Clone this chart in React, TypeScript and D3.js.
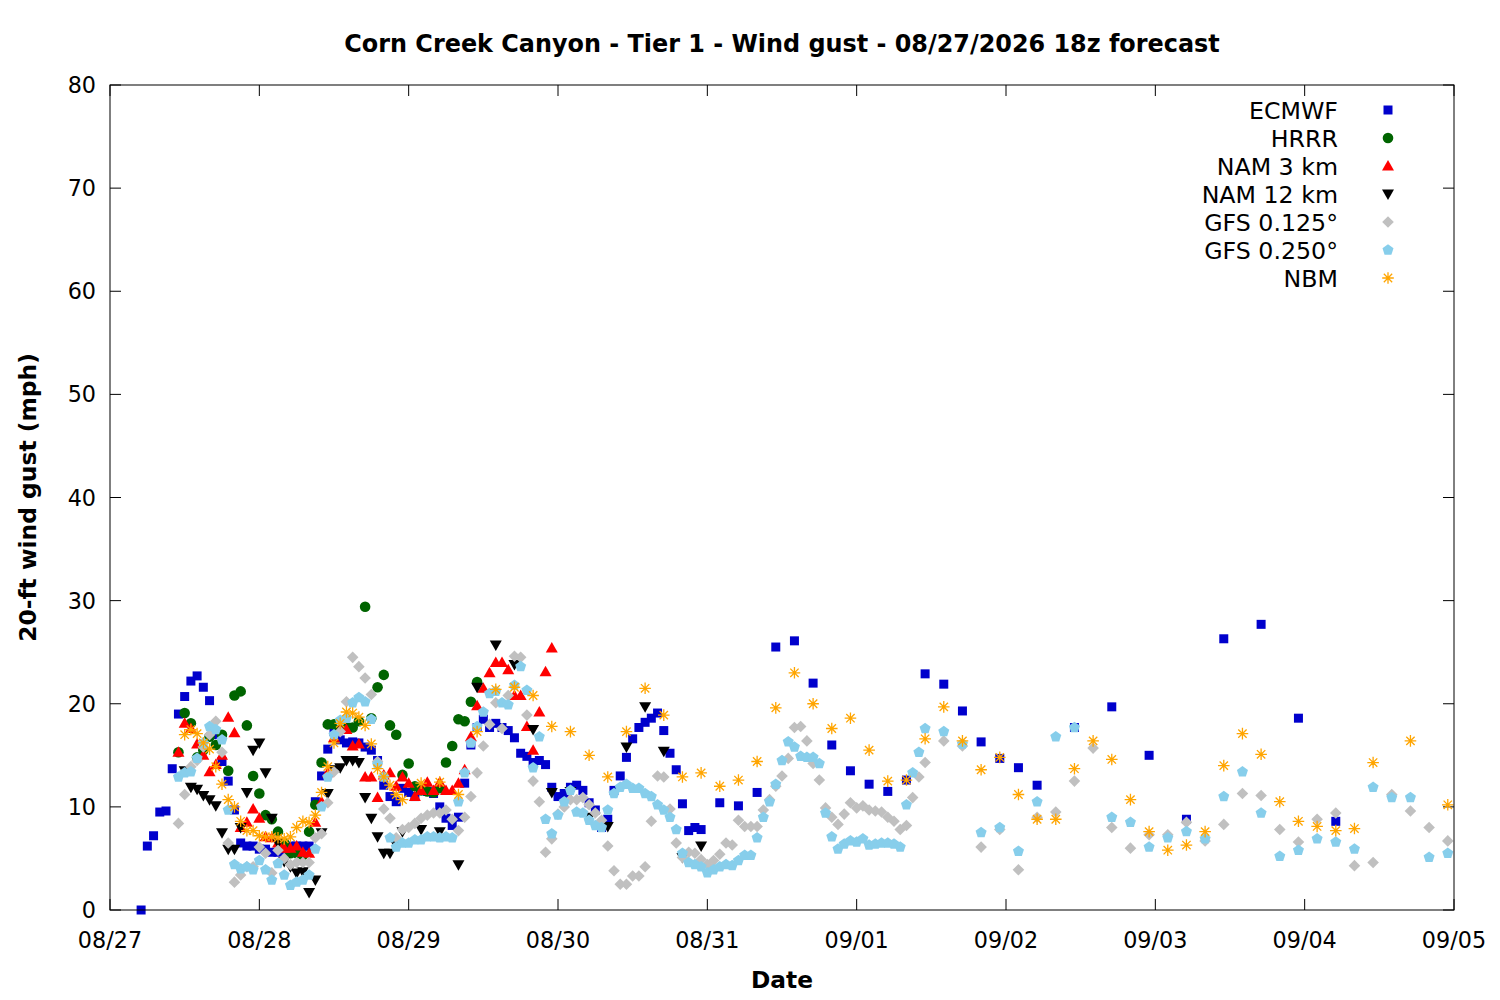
import * as d3 from "d3";
import React from "react";

// hours counted from 08/27 00:00 (local), values in mph
const T0 = Date.UTC(2026, 7, 27, 0);
const DAYS = ["08/27", "08/28", "08/29", "08/30", "08/31", "09/01", "09/02", "09/03", "09/04", "09/05"];
const Y_TICKS = [0, 10, 20, 30, 40, 50, 60, 70, 80];

const ecmwfHourly = [ // h5..h95
  0, 6.2, 7.2, 9.5, 9.6, 13.7, 19.0, 20.7, 22.2, 22.7, 21.6, 20.3, 17.0, 14.4, 12.5, 9.7,
  6.5, 6.2, 6.2, 5.9, 5.9, 5.6, 5.6, 5.8, 6.2, 6.2, 6.2, 6.2, 10.5, 13.0, 15.6, 17.3,
  16.5, 16.2, 16.3, 16.2, 15.8, 15.5, 14.5, 12.1, 11.0, 10.5, 11.8, 11.4, 11.0, 11.6, 11.5, 11.3,
  10.0, 8.9, 8.2, 9.0, 12.3, 16.0, 17.7, 18.5, 17.7, 18.1, 17.7, 17.4, 16.7, 15.2, 14.9, 14.3,
  14.5, 14.1, 11.9, 11.0, 11.3, 11.9, 12.1, 11.6, 10.4, 9.7, 8.0, 8.8, 11.6, 13.0, 14.8, 16.6,
  17.7, 18.2, 18.6, 19.1, 17.4, 15.2, 13.6, 10.3, 7.7, 8.0, 7.8,
];
const ecmwf3h = [10.4, 10.1, 11.4, 25.5, 26.1, 22.0, 16.0, 13.5, 12.2, 11.5, 12.6, 22.9, 21.9, 19.3, 16.3, 14.7, 13.8, 12.1]; // h98..h149
const ecmwf6h = [17.7, 19.7, 15.0, 8.8, 26.3, 27.7, 18.6, 8.6]; // h155..h197

const hrrrHourly = [ // h11..h59
  15.3, 19.1, 18.1, 14.8, 15.5, 16.8, 16.0, 17.0, 13.5, 20.8, 21.2, 17.9, 13.0, 11.3, 9.2, 8.8,
  7.6, 6.5, 5.5, 5.5, 5.3, 7.6, 10.2, 14.3, 18.0, 18.0, 17.5, 17.8, 17.7, 18.3, 29.4, 18.6,
  21.6, 22.8, 17.9, 17.0, 13.1, 14.2, 12.0, 11.6, 11.5, 11.4, 11.8, 14.3, 15.9, 18.5, 18.3, 20.2,
  22.1,
];

const nam3Hourly = [ // h11..h71
  15.3, 18.1, 17.6, 16.1, 15.0, 13.4, 14.1, 15.0, 18.7, 17.2, 8.0, 8.5, 9.8, 8.9, 7.1, 7.0,
  6.5, 6.0, 6.0, 6.2, 5.6, 5.5, 8.5, 10.5, 13.3, 16.7, 17.5, 17.5, 15.9, 16.1, 12.9, 12.9,
  10.9, 13.1, 13.3, 12.0, 12.9, 12.3, 11.0, 11.6, 12.4, 11.6, 12.4, 11.6, 11.6, 12.3, 13.6, 16.8,
  19.8, 21.5, 23.0, 24.0, 24.0, 23.3, 20.8, 20.8, 17.8, 15.5, 19.2, 23.1, 25.4,
];

const nam12Hourly = [ // h12..h47
  13.5, 11.9, 11.7, 11.1, 10.7, 10.1, 7.5, 5.9, 5.9, 8.0, 11.4, 15.5, 16.2, 13.3, 8.9, 6.5,
  4.7, 4.2, 3.6, 3.7, 1.7, 2.9, 7.5, 11.3, 13.6, 13.8, 14.5, 14.5, 14.3, 10.9, 8.9, 7.1,
  5.5, 5.5, 6.3, 7.6,
];
const nam12_3h = [7.8, 7.6, 4.4, 21.6, 25.7, 23.8, 17.5, 11.4, 11.5, 9.0, 8.1, 15.8, 19.7, 15.4, 5.1, 6.2]; // h50..h95

const gfs125Hourly = [ // h11..h131
  8.4, 11.2, 13.9, 14.5, 15.8, 17.0, 18.3, 15.3, 6.5, 2.7, 3.4, 4.2, 4.2, 6.1, 5.5, 3.6,
  5.8, 5.0, 4.4, 4.6, 4.6, 4.6, 7.0, 7.4, 10.4, 13.4, 17.3, 20.2, 24.5, 23.6, 22.5, 20.9,
  14.4, 9.8, 8.9, 7.0, 7.8, 8.0, 8.4, 8.9, 9.2, 9.4, 9.4, 9.7, 8.8, 7.7, 9.0, 11.0,
  13.3, 15.9, 18.0, 20.1, 17.6, 20.8, 24.6, 24.5, 18.9, 12.5, 10.5, 5.6, 6.9, 9.3, 10.0, 10.7,
  10.7, 10.9, 10.2, 9.4, 8.7, 6.2, 3.8, 2.5, 2.5, 3.3, 3.3, 4.2, 8.6, 13.0, 12.9, 9.8,
  6.5, 5.1, 5.6, 5.5, 4.9, 4.4, 4.8, 5.4, 6.5, 6.3, 8.7, 8.1, 8.1, 8.1, 9.7, 10.7,
  12.0, 13.0, 14.7, 17.7, 17.8, 16.4, 14.2, 12.6, 9.9, 9.0, 8.3, 9.3, 10.4, 9.9, 10.1, 9.7,
  9.6, 9.5, 9.0, 8.6, 7.8, 8.2, 10.9, 12.9, 14.3,
];
const gfs125_3h = [ // h134..h215
  16.4, 15.9, 6.1, 7.8, 3.9, 9.0, 9.5, 12.5, 15.7, 8.0, 6.0, 7.3, 7.3, 8.5, 6.7, 8.3,
  11.3, 11.1, 7.8, 6.6, 8.8, 9.4, 4.3, 4.6, 11.2, 9.6, 8.0, 6.7,
];

const gfs250Hourly = [ // h11..h131
  12.9, 13.3, 13.4, 14.7, 16.2, 17.8, 17.5, 16.5, 9.7, 4.4, 4.0, 4.2, 3.9, 4.8, 3.9, 2.9,
  4.5, 3.4, 2.4, 2.7, 2.9, 3.4, 5.9, 10.0, 12.9, 17.0, 18.4, 18.6, 20.1, 20.6, 20.2, 18.5,
  14.1, 12.9, 7.0, 6.1, 6.5, 6.5, 6.8, 6.8, 7.1, 7.1, 7.0, 7.1, 7.0, 10.5, 13.3, 16.2,
  17.8, 19.2, 21.0, 21.2, 20.1, 19.9, 21.8, 23.6, 21.3, 13.8, 16.8, 8.8, 7.4, 9.2, 10.5, 11.6,
  9.5, 9.4, 8.7, 8.2, 8.0, 9.7, 11.3, 11.9, 12.2, 11.8, 11.8, 11.3, 11.0, 10.2, 9.7, 9.0,
  7.8, 5.5, 4.6, 4.4, 4.2, 3.6, 3.9, 4.2, 4.4, 4.3, 4.8, 5.3, 5.3, 7.0, 9.0, 10.5,
  12.2, 14.5, 16.3, 15.8, 14.9, 14.8, 14.8, 14.2, 9.4, 7.1, 5.9, 6.4, 6.7, 6.6, 6.9, 6.3,
  6.4, 6.5, 6.5, 6.4, 6.1, 10.2, 13.3, 15.3, 17.6,
];
const gfs250_3h = [ // h134..h215
  17.3, 16.1, 7.5, 8.0, 5.7, 10.5, 16.8, 17.7, null, 9.0, 8.5, 6.1, 7.0, 7.6, 6.9, 11.0,
  13.4, 9.4, 5.2, 5.8, 6.9, 6.6, 5.9, 11.9, 10.9, 10.9, 5.1, 5.5,
];

const nbmHourly = [ // h12..h47
  17.0, 17.5, 17.1, 16.2, 15.6, 13.9, 12.2, 10.7, 10.0, 8.6, 7.7, 7.7, 7.2, 7.1, 7.1, 7.0,
  6.9, 7.1, 8.0, 8.6, 8.5, 9.2, 11.4, 13.9, 16.2, 18.1, 19.2, 19.1, 18.7, 17.9, 16.1, 13.7,
  12.9, 12.1, 11.2, 10.7,
];
const nbm3h = [ // h50..h215
  12.3, 12.4, 11.2, 17.3, 21.4, 21.6, 20.8, 17.8, 17.3, 15.0,
  12.9, 17.3, 21.5, 18.9, 12.9, 13.3, 12.0, 12.6, 14.4, 19.6,
  23.0, 20.0, 17.6, 18.6, 15.5, 12.5, 12.6, 16.6, 19.7, 16.4,
  13.6, 14.8, 11.2, 8.8, 8.8, 13.7, 16.4, 14.6, 10.7, 7.6,
  5.8, 6.3, 7.6, 14.0, 17.1, 15.1, 10.5, 8.6, 8.1, 7.7,
  7.9, 14.3, null, 16.4, null, 10.2,
];

type Pt = { t: Date; v: number };
const run = (start: number, step: number, vals: (number | null)[]): Pt[] =>
  vals.flatMap((v, i) => (v == null ? [] : [{ t: new Date(T0 + (start + i * step) * 3600e3), v }]));

// marker path generators (centred at 0,0)
const sq = () => "M-4.5,-4.5h9v9h-9Z";
const circ = () => "M-5.3,0a5.3,5.3 0 1,0 10.6,0a5.3,5.3 0 1,0 -10.6,0Z";
const triUp = () => "M0,-6L6,4.5L-6,4.5Z";
const triDown = () => "M0,6L6,-4.5L-6,-4.5Z";
const diamond = () => "M0,-5.8L5.8,0L0,5.8L-5.8,0Z";
const pentagon = () => {
  const r = 5.8;
  return "M" + d3.range(5).map(k => {
    const a = -Math.PI / 2 + (k * 2 * Math.PI) / 5;
    return `${(r * Math.cos(a)).toFixed(2)},${(r * Math.sin(a)).toFixed(2)}`;
  }).join("L") + "Z";
};
const star = () => {
  const r = 5.8, q = r * 0.72;
  return `M${-r},0H${r}M0,${-r}V${r}M${-q},${-q}L${q},${q}M${-q},${q}L${q},${-q}`;
};

const series = [
  { name: "ECMWF", color: "#0000cc", shape: sq, stroke: false,
    data: [...run(5, 1, ecmwfHourly), ...run(98, 3, ecmwf3h), ...run(155, 6, ecmwf6h)] },
  { name: "HRRR", color: "#006400", shape: circ, stroke: false, data: run(11, 1, hrrrHourly) },
  { name: "NAM 3 km", color: "#ff0000", shape: triUp, stroke: false, data: run(11, 1, nam3Hourly) },
  { name: "NAM 12 km", color: "#000000", shape: triDown, stroke: false,
    data: [...run(12, 1, nam12Hourly), ...run(50, 3, nam12_3h)] },
  { name: "GFS 0.125°", color: "#c0c0c0", shape: diamond, stroke: false,
    data: [...run(11, 1, gfs125Hourly), ...run(134, 3, gfs125_3h)] },
  { name: "GFS 0.250°", color: "#87ceeb", shape: pentagon, stroke: false,
    data: [...run(11, 1, gfs250Hourly), ...run(134, 3, gfs250_3h)] },
  { name: "NBM", color: "#ffa500", shape: star, stroke: true,
    data: [...run(12, 1, nbmHourly), ...run(50, 3, nbm3h)] },
];

const W = 1500, H = 1000;
const m = { top: 85, right: 46, bottom: 90, left: 110 };
const FONT = "'DejaVu Sans', sans-serif";

export default function App() {
  const x = d3.scaleUtc()
    .domain([new Date(T0), new Date(T0 + 216 * 3600e3)])
    .range([m.left, W - m.right]);
  const y = d3.scaleLinear().domain([0, 80]).range([H - m.bottom, m.top]);
  const dayTicks = d3.utcDay.range(new Date(T0), new Date(T0 + 217 * 3600e3));
  const tl = 11;

  return (
    <div style={{ position: "absolute", left: 0, top: 0 }}>
      <svg width={W} height={H} style={{ display: "block", background: "#fff" }} fontFamily={FONT}>
        <text x={(m.left + W - m.right) / 2} y={52} textAnchor="middle" fontSize={23.9} fontWeight="bold">
          Corn Creek Canyon - Tier 1 - Wind gust - 08/27/2026 18z forecast
        </text>

        {Y_TICKS.map(t => (
          <g key={t}>
            <line x1={m.left} x2={m.left + tl} y1={y(t)} y2={y(t)} stroke="#000" />
            <line x1={W - m.right} x2={W - m.right - tl} y1={y(t)} y2={y(t)} stroke="#000" />
            <text x={m.left - 14} y={y(t)} dy="0.36em" textAnchor="end" fontSize={22.3}>{t}</text>
          </g>
        ))}
        {dayTicks.map((d, i) => (
          <g key={+d}>
            <line x1={x(d)} x2={x(d)} y1={H - m.bottom} y2={H - m.bottom - tl} stroke="#000" />
            <line x1={x(d)} x2={x(d)} y1={m.top} y2={m.top + tl} stroke="#000" />
            <text x={x(d)} y={H - m.bottom + 38} textAnchor="middle" fontSize={22.3}>{DAYS[i]}</text>
          </g>
        ))}

        <text x={(m.left + W - m.right) / 2} y={988} textAnchor="middle" fontSize={23.3} fontWeight="bold">Date</text>
        <text transform={`translate(28,${(m.top + H - m.bottom) / 2}) rotate(-90)`} dy="0.36em"
          textAnchor="middle" fontSize={23.4} fontWeight="bold">20-ft wind gust (mph)</text>

        {series.map(s => (
          <g key={s.name}>
            {s.data.map((p, i) => (
              <path key={i} d={s.shape()} transform={`translate(${x(p.t)},${y(p.v)})`}
                fill={s.stroke ? "none" : s.color} stroke={s.stroke ? s.color : "none"} strokeWidth={1.3} />
            ))}
          </g>
        ))}

        <rect x={m.left} y={m.top} width={W - m.left - m.right} height={H - m.top - m.bottom}
          fill="none" stroke="#000" strokeWidth={1} />

        {series.map((s, i) => (
          <g key={s.name} transform={`translate(0,${110 + i * 28})`}>
            <text x={1338} y={0} dy="0.36em" textAnchor="end" fontSize={23.7}>{s.name}</text>
            <path d={s.shape()} transform="translate(1388,0)"
              fill={s.stroke ? "none" : s.color} stroke={s.stroke ? s.color : "none"} strokeWidth={1.3} />
          </g>
        ))}
      </svg>
    </div>
  );
}
